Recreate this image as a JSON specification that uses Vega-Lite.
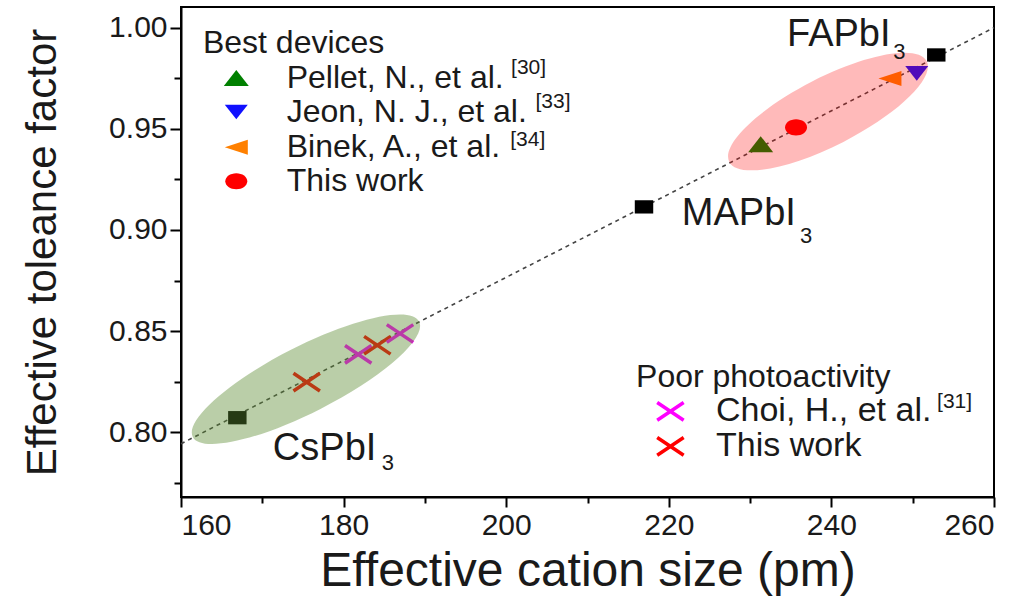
{
  "$schema": "https://vega.github.io/schema/vega-lite/v6.json",
  "width": 813,
  "height": 490,
  "autosize": {"type": "none"},
  "padding": {"left": 181, "top": 7, "right": 38, "bottom": 99},
  "background": "white",
  "config": {
    "view": {"stroke": "#000", "strokeWidth": 2},
    "font": "Liberation Sans",
    "axis": {
      "grid": false,
      "domainColor": "#000",
      "domainWidth": 2,
      "tickColor": "#000",
      "tickWidth": 2,
      "labelFont": "Liberation Sans",
      "labelFontSize": 30,
      "labelColor": "#1a1a1a",
      "titleFont": "Liberation Sans",
      "titleFontWeight": "normal",
      "titleColor": "#1a1a1a"
    }
  },
  "datasets": {
    "fit": [{"x": 160, "t": 0.7943}, {"x": 260, "t": 1.0}],
    "pts": [
      {"x": 166.93, "t": 0.8072, "kind": "square"},
      {"x": 216.95, "t": 0.9114, "kind": "square"},
      {"x": 252.9, "t": 0.9865, "kind": "square"},
      {"x": 231.3, "t": 0.9424, "kind": "Pellet"},
      {"x": 235.65, "t": 0.9507, "kind": "This work best"},
      {"x": 247.2, "t": 0.9749, "kind": "Binek"},
      {"x": 250.5, "t": 0.9774, "kind": "Jeon"},
      {"x": 166.8, "t": 0.9751, "kind": "Pellet"},
      {"x": 166.8, "t": 0.9583, "kind": "Jeon"},
      {"x": 166.8, "t": 0.9409, "kind": "Binek"},
      {"x": 166.8, "t": 0.9241, "kind": "This work best"}
    ],
    "crosses": [
      {"x": 175.46, "t": 0.8248, "kind": "This work poor"},
      {"x": 181.8, "t": 0.8385, "kind": "Choi"},
      {"x": 184.15, "t": 0.843, "kind": "This work poor"},
      {"x": 186.94, "t": 0.8488, "kind": "Choi"},
      {"x": 220.2, "t": 0.8103, "kind": "Choi"},
      {"x": 220.2, "t": 0.793, "kind": "This work poor"}
    ],
    "ellipses": [
      {"x": 175.37, "t": 0.8262, "group": "CsPbI3"},
      {"x": 239.58, "t": 0.9585, "group": "best"}
    ],
    "labels": [
      {"x": 162.7, "t": 0.9924, "text": "Best devices", "role": "title"},
      {"x": 173.0, "t": 0.9751, "text": "Pellet, N., et al.", "role": "entry"},
      {"x": 173.0, "t": 0.9583, "text": "Jeon, N. J., et al.", "role": "entry"},
      {"x": 173.0, "t": 0.9409, "text": "Binek, A., et al.", "role": "entry"},
      {"x": 173.0, "t": 0.9241, "text": "This work", "role": "entry"},
      {"x": 200.6, "t": 0.98, "text": "[30]", "role": "sup"},
      {"x": 203.6, "t": 0.9632, "text": "[33]", "role": "sup"},
      {"x": 200.5, "t": 0.9445, "text": "[34]", "role": "sup"},
      {"x": 215.97, "t": 0.8272, "text": "Poor photoactivity", "role": "title"},
      {"x": 225.8, "t": 0.8103, "text": "Choi, H., et al.", "role": "entry2"},
      {"x": 225.8, "t": 0.793, "text": "This work", "role": "entry2"},
      {"x": 253.0, "t": 0.8148, "text": "[31]", "role": "sup"},
      {"x": 234.54, "t": 0.9963, "text": "FAPbI", "role": "chem"},
      {"x": 247.6, "t": 0.988, "text": "3", "role": "sub"},
      {"x": 221.6, "t": 0.9081, "text": "MAPbI", "role": "chem"},
      {"x": 236.14, "t": 0.8969, "text": "3", "role": "sub"},
      {"x": 171.3, "t": 0.7915, "text": "CsPbI", "role": "chem"},
      {"x": 184.7, "t": 0.7849, "text": "3", "role": "sub"}
    ]
  },
  "encoding": {
    "x": {
      "field": "x", "type": "quantitative",
      "scale": {"domain": [160, 260], "nice": false, "zero": false},
      "axis": {
        "title": "Effective cation size (pm)",
        "titleFontSize": 48,
        "values": [160, 170, 180, 190, 200, 210, 220, 230, 240, 250, 260],
        "labelExpr": "datum.value % 20 === 0 ? datum.label : ''",
        "tickSize": {"condition": {"test": "datum.value % 20 === 0", "value": 10}, "value": 6},
        "labelPadding": 3,
        "titlePadding": 7
      }
    },
    "y": {
      "field": "t", "type": "quantitative",
      "scale": {"domain": [0.768, 1.0102], "nice": false, "zero": false},
      "axis": {
        "title": "Effective toleance factor",
        "titleFontSize": 42,
        "values": [0.775, 0.8, 0.825, 0.85, 0.875, 0.9, 0.925, 0.95, 0.975, 1.0],
        "format": ".2f",
        "labelExpr": "round(datum.value * 1000) % 50 === 0 ? datum.label : ''",
        "tickSize": {"condition": {"test": "round(datum.value * 1000) % 50 === 0", "value": 11}, "value": 7},
        "labelPadding": 3,
        "titlePadding": 44
      }
    }
  },
  "layer": [
    {
      "data": {"name": "fit"},
      "mark": {"type": "line", "color": "#444", "strokeWidth": 1.6, "strokeDash": [4, 4]},
      "encoding": {}
    },
    {
      "data": {"name": "pts"},
      "mark": {"type": "point", "filled": true, "opacity": 1},
      "encoding": {
        "shape": {
          "field": "kind", "type": "nominal", "legend": null,
          "scale": {
            "domain": ["square", "Pellet", "Jeon", "Binek", "This work best"],
            "range": [
              "M-1,-0.72L1,-0.72L1,0.72L-1,0.72Z",
              "M0,-0.64L1,0.64L-1,0.64Z",
              "M-1,-0.64L1,-0.64L0,0.64Z",
              "M-1,0L1,-0.65L1,0.65Z",
              "M-1,0C-1,-0.403,-0.552,-0.73,0,-0.73C0.552,-0.73,1,-0.403,1,0C1,0.403,0.552,0.73,0,0.73C-0.552,0.73,-1,0.403,-1,0Z"
            ]
          }
        },
        "color": {
          "field": "kind", "type": "nominal", "legend": null,
          "scale": {
            "domain": ["square", "Pellet", "Jeon", "Binek", "This work best", "Choi", "This work poor"],
            "range": ["#000000", "#008000", "#1010ff", "#ff8000", "#ff0000", "#ff00ff", "#ff0000"]
          }
        },
        "size": {
          "field": "kind", "type": "nominal", "legend": null,
          "scale": {
            "type": "ordinal",
            "domain": ["square", "Pellet", "Jeon", "Binek", "This work best"],
            "range": [340, 625, 529, 529, 484]
          }
        }
      }
    },
    {
      "data": {"name": "crosses"},
      "mark": {"type": "point", "filled": false, "strokeWidth": 3.5, "opacity": 1, "size": 700, "shape": "M-1,-0.67L1,0.67M-1,0.67L1,-0.67"},
      "encoding": {
        "color": {"field": "kind", "type": "nominal", "legend": null}
      }
    },
    {
      "data": {"name": "ellipses"},
      "transform": [{"filter": "datum.group === 'CsPbI3'"}],
      "mark": {
        "type": "point", "filled": true, "color": "#5b8b30", "opacity": 0.42, "angle": 333, "size": 64516,
        "shape": "M-1,0C-1,-0.1436,-0.5523,-0.26,0,-0.26C0.5523,-0.26,1,-0.1436,1,0C1,0.1436,0.5523,0.26,0,0.26C-0.5523,0.26,-1,0.1436,-1,0Z"
      },
      "encoding": {}
    },
    {
      "data": {"name": "ellipses"},
      "transform": [{"filter": "datum.group === 'best'"}],
      "mark": {
        "type": "point", "filled": true, "color": "#ff0000", "opacity": 0.27, "angle": 333, "size": 49106,
        "shape": "M-1,0C-1,-0.1696,-0.5523,-0.307,0,-0.307C0.5523,-0.307,1,-0.1696,1,0C1,0.1696,0.5523,0.307,0,0.307C-0.5523,0.307,-1,0.1696,-1,0Z"
      },
      "encoding": {}
    },
    {
      "data": {"name": "labels"},
      "transform": [{"filter": "datum.role === 'title'"}],
      "mark": {"type": "text", "align": "left", "baseline": "middle", "fontSize": 32, "color": "#1a1a1a"},
      "encoding": {"text": {"field": "text"}}
    },
    {
      "data": {"name": "labels"},
      "transform": [{"filter": "datum.role === 'entry'"}],
      "mark": {"type": "text", "align": "left", "baseline": "middle", "fontSize": 32, "color": "#1a1a1a"},
      "encoding": {"text": {"field": "text"}}
    },
    {
      "data": {"name": "labels"},
      "transform": [{"filter": "datum.role === 'entry2'"}],
      "mark": {"type": "text", "align": "left", "baseline": "middle", "fontSize": 34, "color": "#1a1a1a"},
      "encoding": {"text": {"field": "text"}}
    },
    {
      "data": {"name": "labels"},
      "transform": [{"filter": "datum.role === 'sup'"}],
      "mark": {"type": "text", "align": "left", "baseline": "middle", "fontSize": 21, "color": "#1a1a1a"},
      "encoding": {"text": {"field": "text"}}
    },
    {
      "data": {"name": "labels"},
      "transform": [{"filter": "datum.role === 'chem'"}],
      "mark": {"type": "text", "align": "left", "baseline": "middle", "fontSize": 38, "color": "#1a1a1a"},
      "encoding": {"text": {"field": "text"}}
    },
    {
      "data": {"name": "labels"},
      "transform": [{"filter": "datum.role === 'sub'"}],
      "mark": {"type": "text", "align": "left", "baseline": "middle", "fontSize": 22, "color": "#1a1a1a"},
      "encoding": {"text": {"field": "text"}}
    }
  ]
}
